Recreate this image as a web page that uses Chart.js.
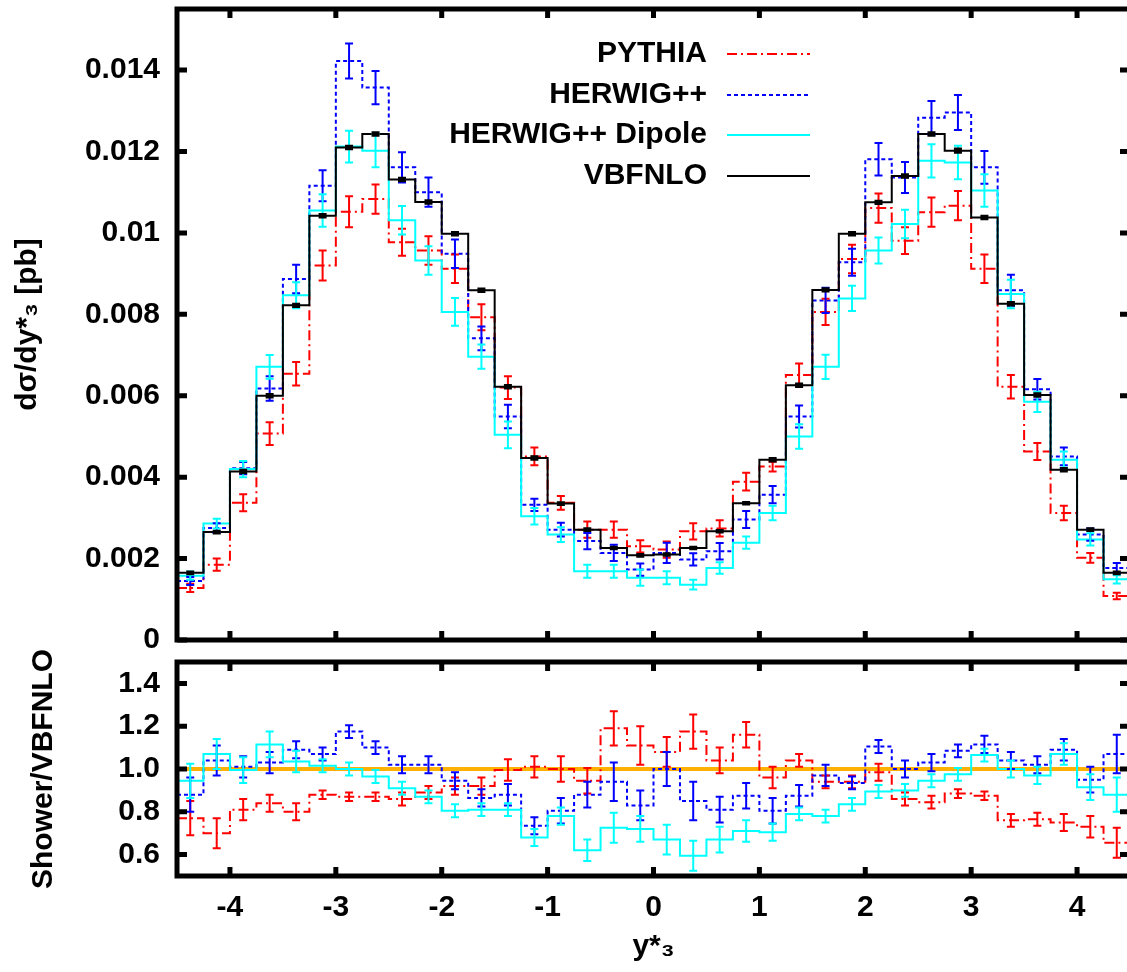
<!DOCTYPE html>
<html>
<head>
<meta charset="utf-8">
<script src="https://cdn.jsdelivr.net/npm/chart.js@4.4.1/dist/chart.umd.min.js"></script>
<style>
  html, body { margin: 0; padding: 0; background: #fff; overflow: hidden; }
  #top { position: absolute; left: 0; top: 0; width: 1135px; height: 655px; }
  #bot { position: absolute; left: 0; top: 625px; width: 1135px; height: 347px; }
</style>
</head>
<body>
<div id="top"><canvas id="main"></canvas></div>
<div id="bot"><canvas id="ratio"></canvas></div>
<script>
// bins in y*_3 (width 0.25)
const binEdges = [-4.5, -4.25, -4, -3.75, -3.5, -3.25, -3, -2.75, -2.5, -2.25, -2, -1.75, -1.5, -1.25, -1, -0.75, -0.5, -0.25, 0,
  0.25, 0.5, 0.75, 1, 1.25, 1.5, 1.75, 2, 2.25, 2.5, 2.75, 3, 3.25, 3.5, 3.75, 4, 4.25, 4.5];
const binCenters = [-4.375, -4.125, -3.875, -3.625, -3.375, -3.125, -2.875, -2.625, -2.375, -2.125, -1.875, -1.625, -1.375, -1.125, -0.875, -0.625, -0.375, -0.125,
  0.125, 0.375, 0.625, 0.875, 1.125, 1.375, 1.625, 1.875, 2.125, 2.375, 2.625, 2.875, 3.125, 3.375, 3.625, 3.875, 4.125, 4.375];

const xTickValues = [-4, -3, -2, -1, 0, 1, 2, 3, 4];
const topTickValues = [0, 0.002, 0.004, 0.006, 0.008, 0.01, 0.012, 0.014];
const topTickLabels = ['0', '0.002', '0.004', '0.006', '0.008', '0.01', '0.012', '0.014'];
const ratioTickValues = [0.6, 0.8, 1.0, 1.2, 1.4];
const ratioTickLabels = ['0.6', '0.8', '1.0', '1.2', '1.4'];

// dsigma/dy*3 [pb]
const pythia = [0.00128, 0.00185, 0.00337, 0.00507, 0.00654, 0.00920, 0.01052, 0.01083, 0.00977, 0.00957, 0.00912, 0.00793, 0.00620, 0.00451, 0.00337, 0.00271, 0.00271, 0.00230,
  0.00222, 0.00267, 0.00274, 0.00389, 0.00426, 0.00651, 0.00806, 0.00936, 0.01061, 0.00981, 0.01051, 0.01067, 0.00912, 0.00622, 0.00463, 0.00312, 0.00202, 0.00108];
const herwig = [0.00145, 0.00275, 0.00422, 0.00618, 0.00887, 0.01116, 0.01422, 0.01357, 0.01161, 0.01100, 0.00949, 0.00741, 0.00549, 0.00332, 0.00271, 0.00243, 0.00214, 0.00173,
  0.00214, 0.00198, 0.00218, 0.00296, 0.00357, 0.00549, 0.00834, 0.00928, 0.01181, 0.01136, 0.01283, 0.01296, 0.01161, 0.00859, 0.00616, 0.00451, 0.00259, 0.00177];
const dipole = [0.00158, 0.00286, 0.00420, 0.00671, 0.00847, 0.01055, 0.01212, 0.01202, 0.01031, 0.00932, 0.00806, 0.00696, 0.00504, 0.00304, 0.00259, 0.00169, 0.00169, 0.00153,
  0.00153, 0.00136, 0.00177, 0.00239, 0.00312, 0.00500, 0.00671, 0.00839, 0.00957, 0.01022, 0.01177, 0.01173, 0.01104, 0.00850, 0.00585, 0.00443, 0.00247, 0.00149];
const vbfnlo = [0.00165, 0.00265, 0.00414, 0.00600, 0.00822, 0.01042, 0.01210, 0.01243, 0.01131, 0.01076, 0.00998, 0.00859, 0.00622, 0.00447, 0.00335, 0.00271, 0.00226, 0.00208,
  0.00210, 0.00226, 0.00267, 0.00336, 0.00443, 0.00626, 0.00860, 0.00998, 0.01075, 0.01140, 0.01243, 0.01202, 0.01038, 0.00826, 0.00602, 0.00418, 0.00271, 0.00165];

const pythiaErr = [0.00010, 0.00015, 0.00021, 0.00028, 0.00029, 0.00037, 0.00038, 0.00036, 0.00033, 0.00035, 0.00035, 0.00032, 0.00028, 0.00022, 0.00017, 0.00020, 0.00020, 0.00015,
  0.00020, 0.00020, 0.00020, 0.00022, 0.00012, 0.00028, 0.00032, 0.00035, 0.00036, 0.00033, 0.00036, 0.00036, 0.00035, 0.00029, 0.00021, 0.00018, 0.00012, 0.00008];
const herwigErr = [0.00010, 0.00012, 0.00015, 0.00030, 0.00035, 0.00038, 0.00043, 0.00041, 0.00037, 0.00036, 0.00035, 0.00029, 0.00029, 0.00015, 0.00017, 0.00020, 0.00020, 0.00015,
  0.00025, 0.00015, 0.00020, 0.00021, 0.00021, 0.00027, 0.00031, 0.00033, 0.00040, 0.00038, 0.00041, 0.00043, 0.00040, 0.00038, 0.00025, 0.00022, 0.00015, 0.00012];
const dipoleErr = [0.00010, 0.00012, 0.00020, 0.00029, 0.00032, 0.00040, 0.00039, 0.00041, 0.00035, 0.00035, 0.00034, 0.00030, 0.00033, 0.00020, 0.00018, 0.00016, 0.00016, 0.00020,
  0.00016, 0.00012, 0.00014, 0.00015, 0.00018, 0.00030, 0.00030, 0.00031, 0.00032, 0.00035, 0.00041, 0.00041, 0.00040, 0.00035, 0.00025, 0.00020, 0.00015, 0.00010];
const vbfnloErr = [0.00002, 0.00002, 0.00003, 0.00003, 0.00003, 0.00003, 0.00003, 0.00003, 0.00003, 0.00003, 0.00003, 0.00003, 0.00003, 0.00003, 0.00002, 0.00002, 0.00002, 0.00002,
  0.00002, 0.00002, 0.00002, 0.00002, 0.00003, 0.00003, 0.00003, 0.00003, 0.00003, 0.00003, 0.00003, 0.00004, 0.00003, 0.00003, 0.00003, 0.00003, 0.00002, 0.00002];

// Shower / VBFNLO
const pythiaRatio = [0.77, 0.70, 0.81, 0.84, 0.80, 0.88, 0.87, 0.87, 0.86, 0.89, 0.92, 0.92, 0.995, 1.01, 1.0, 0.945, 1.19, 1.11,
  1.08, 1.175, 1.04, 1.16, 0.96, 1.04, 0.94, 0.94, 0.985, 0.86, 0.845, 0.885, 0.875, 0.76, 0.765, 0.75, 0.73, 0.655];
const herwigRatio = [0.88, 1.04, 1.01, 1.03, 1.09, 1.07, 1.175, 1.10, 1.02, 1.02, 0.945, 0.865, 0.88, 0.735, 0.805, 0.88, 0.94, 0.83,
  1.0, 0.85, 0.81, 0.875, 0.805, 0.875, 0.97, 0.935, 1.105, 1.0, 1.03, 1.085, 1.115, 1.04, 1.02, 1.09, 0.95, 1.07];
const dipoleRatio = [0.945, 1.07, 0.995, 1.115, 1.035, 1.015, 1.0, 0.965, 0.91, 0.87, 0.805, 0.81, 0.81, 0.68, 0.78, 0.62, 0.725, 0.72,
  0.67, 0.595, 0.67, 0.71, 0.705, 0.79, 0.78, 0.835, 0.895, 0.9, 0.945, 0.975, 1.065, 1.0, 0.97, 1.07, 0.915, 0.88];

const pythiaRatioErr = [0.08, 0.07, 0.05, 0.04, 0.04, 0.02, 0.02, 0.02, 0.03, 0.03, 0.04, 0.04, 0.05, 0.05, 0.06, 0.06, 0.08, 0.09,
  0.07, 0.08, 0.06, 0.06, 0.05, 0.03, 0.03, 0.03, 0.04, 0.03, 0.03, 0.02, 0.02, 0.03, 0.03, 0.04, 0.05, 0.07];
const herwigRatioErr = [0.08, 0.07, 0.05, 0.05, 0.04, 0.03, 0.03, 0.03, 0.04, 0.04, 0.04, 0.04, 0.05, 0.04, 0.06, 0.06, 0.09, 0.07,
  0.08, 0.09, 0.06, 0.06, 0.06, 0.05, 0.05, 0.03, 0.03, 0.04, 0.04, 0.03, 0.04, 0.04, 0.04, 0.05, 0.06, 0.09];
const dipoleRatioErr = [0.08, 0.07, 0.06, 0.06, 0.05, 0.03, 0.03, 0.03, 0.03, 0.03, 0.03, 0.03, 0.03, 0.04, 0.04, 0.05, 0.07, 0.06,
  0.07, 0.07, 0.06, 0.05, 0.04, 0.03, 0.03, 0.03, 0.03, 0.03, 0.03, 0.03, 0.03, 0.04, 0.04, 0.05, 0.06, 0.08];

const FONT = '"Liberation Sans", Arial, Helvetica, sans-serif';
const boldFont = { family: FONT, size: 30, weight: 'bold' };

// turn per-bin values into a step outline
function steps(vals) {
  const pts = [];
  vals.forEach((v, i) => {
    pts.push({ x: binEdges[i], y: v });
    pts.push({ x: binEdges[i + 1], y: v });
  });
  return pts;
}

function histo(label, vals, errs, color, dash, order) {
  return {
    label: label,
    data: steps(vals),
    values: vals,
    errors: errs,
    borderColor: color,
    borderDash: dash,
    borderWidth: 2,
    pointRadius: 0,
    tension: 0,
    fill: false,
    order: order,
  };
}

// big tick labels must not shrink the plot area
function noPad(s) {
  s.paddingTop = 0; s.paddingBottom = 0; s.paddingLeft = 0; s.paddingRight = 0;
}

const errorBars = {
  id: 'errorBars',
  afterDatasetsDraw(chart) {
    const { ctx, chartArea: a, scales: { x, y } } = chart;
    ctx.save();
    ctx.beginPath();
    ctx.rect(a.left, a.top, a.right - a.left, a.bottom - a.top);
    ctx.clip();
    const sets = chart.data.datasets.filter(d => d.errors).sort((p, q) => q.order - p.order);
    sets.forEach(ds => {
      ctx.strokeStyle = ds.borderColor;
      ctx.lineWidth = ds.label === 'VBFNLO' ? 3 : 2;
      ctx.setLineDash([]);
      ds.values.forEach((v, i) => {
        const px = x.getPixelForValue(binCenters[i]);
        const y1 = y.getPixelForValue(v - ds.errors[i]);
        const y2 = y.getPixelForValue(v + ds.errors[i]);
        ctx.beginPath();
        ctx.moveTo(px, y1); ctx.lineTo(px, y2);
        ctx.moveTo(px - 4, y1); ctx.lineTo(px + 4, y1);
        ctx.moveTo(px - 4, y2); ctx.lineTo(px + 4, y2);
        ctx.stroke();
      });
    });
    ctx.restore();
  }
};

const frame = {
  id: 'frame',
  afterDraw(chart, args, opts) {
    const { ctx, chartArea: a, scales: { x, y } } = chart;
    ctx.save();
    ctx.strokeStyle = '#000';
    ctx.lineWidth = 5;
    ctx.setLineDash([]);
    ctx.strokeRect(a.left, a.top, a.right - a.left, a.bottom - a.top);
    ctx.beginPath();
    xTickValues.forEach(t => {
      const px = x.getPixelForValue(t);
      ctx.moveTo(px, a.top); ctx.lineTo(px, a.top + 9);
      ctx.moveTo(px, a.bottom); ctx.lineTo(px, a.bottom - 9);
    });
    opts.yTicks.forEach(t => {
      const py = y.getPixelForValue(t);
      ctx.moveTo(a.left, py); ctx.lineTo(a.left + 10, py);
      ctx.moveTo(a.right, py); ctx.lineTo(a.right - 10, py);
    });
    ctx.stroke();
    ctx.restore();
  }
};

const legendBox = {
  id: 'legendBox',
  afterDraw(chart) {
    const { ctx } = chart;
    const rows = [54, 95, 135, 176];
    const order = ['PYTHIA', 'HERWIG++', 'HERWIG++ Dipole', 'VBFNLO'];
    ctx.save();
    ctx.font = 'bold 30px ' + FONT;
    ctx.textAlign = 'right';
    ctx.textBaseline = 'middle';
    order.forEach((name, i) => {
      const ds = chart.data.datasets.find(d => d.label === name);
      ctx.fillStyle = '#000';
      ctx.fillText(name, 707, rows[i]);
      ctx.strokeStyle = ds.borderColor;
      ctx.lineWidth = 2;
      ctx.setLineDash(ds.borderDash || []);
      ctx.beginPath();
      ctx.moveTo(727, rows[i]); ctx.lineTo(810, rows[i]);
      ctx.stroke();
    });
    ctx.restore();
  }
};

new Chart(document.getElementById('main'), {
  type: 'line',
  data: {
    datasets: [
      histo('PYTHIA', pythia, pythiaErr, '#ff0000', [10, 4, 2, 4], 3),
      histo('HERWIG++', herwig, herwigErr, '#0000ff', [4, 3], 2),
      histo('HERWIG++ Dipole', dipole, dipoleErr, '#00ffff', [], 1),
      histo('VBFNLO', vbfnlo, vbfnloErr, '#000000', [], 0),
    ]
  },
  options: {
    responsive: true,
    maintainAspectRatio: false,
    animation: false,
    devicePixelRatio: 1,
    events: [],
    layout: { padding: { top: 9, right: 5, bottom: 15, left: 0 } },
    plugins: {
      legend: { display: false },
      tooltip: { enabled: false },
      frame: { yTicks: topTickValues },
    },
    scales: {
      x: { type: 'linear', min: -4.5, max: 4.5, display: false },
      y: {
        min: 0, max: 0.0155,
        afterFit(s) { s.width = 177; noPad(s); },
        afterBuildTicks(s) { s.ticks = topTickValues.map(v => ({ value: v })); },
        ticks: {
          callback: (v, i) => topTickLabels[i],
          font: boldFont, color: '#000', padding: 17,
        },
        grid: { display: false, drawTicks: false },
        border: { display: false },
        title: { display: true, text: 'dσ/dy*₃ [pb]', font: boldFont, color: '#000', padding: { top: 10, bottom: 0 } },
      }
    }
  },
  plugins: [errorBars, frame, legendBox]
});

new Chart(document.getElementById('ratio'), {
  type: 'line',
  data: {
    datasets: [
      histo('PYTHIA', pythiaRatio, pythiaRatioErr, '#ff0000', [10, 4, 2, 4], 3),
      histo('HERWIG++', herwigRatio, herwigRatioErr, '#0000ff', [4, 3], 2),
      histo('HERWIG++ Dipole', dipoleRatio, dipoleRatioErr, '#00ffff', [], 1),
      {
        label: 'unity',
        data: [{ x: -4.5, y: 1 }, { x: 4.5, y: 1 }],
        borderColor: '#ffb000',
        borderWidth: 4,
        pointRadius: 0,
        order: 5,
      },
    ]
  },
  options: {
    responsive: true,
    maintainAspectRatio: false,
    animation: false,
    devicePixelRatio: 1,
    events: [],
    layout: { padding: { top: 37, right: 5, bottom: 0, left: 0 } },
    plugins: {
      legend: { display: false },
      tooltip: { enabled: false },
      frame: { yTicks: ratioTickValues },
    },
    scales: {
      x: {
        type: 'linear', min: -4.5, max: 4.5,
        afterFit(s) { s.height = 96; noPad(s); },
        afterBuildTicks(s) { s.ticks = xTickValues.map(v => ({ value: v })); },
        ticks: { font: boldFont, color: '#000', padding: 14, maxRotation: 0 },
        grid: { display: false, drawTicks: false },
        border: { display: false },
        title: { display: true, text: 'y*₃', font: boldFont, color: '#000', padding: { top: 0, bottom: 7 } },
      },
      y: {
        min: 0.5, max: 1.5,
        afterFit(s) { s.width = 177; noPad(s); },
        afterBuildTicks(s) { s.ticks = ratioTickValues.map(v => ({ value: v })); },
        ticks: {
          callback: (v, i) => ratioTickLabels[i],
          font: boldFont, color: '#000', padding: 17,
        },
        grid: { display: false, drawTicks: false },
        border: { display: false },
        title: { display: true, text: 'Shower/VBFNLO', font: boldFont, color: '#000', padding: { top: 26, bottom: 0 } },
      }
    }
  },
  plugins: [errorBars, frame]
});
</script>
</body>
</html>
